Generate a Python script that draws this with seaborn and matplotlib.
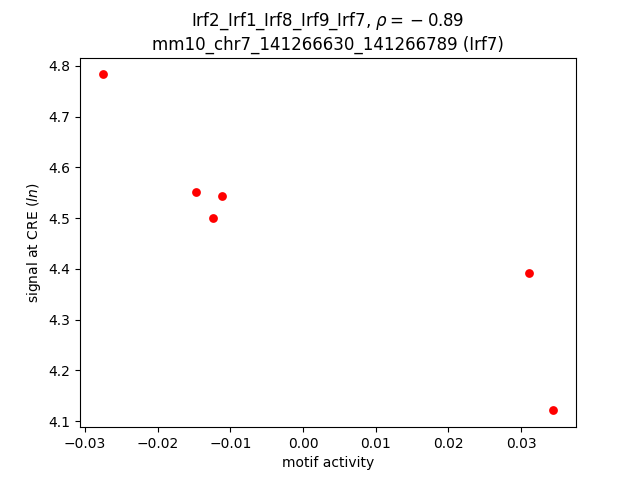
import numpy as np
import pandas as pd
import matplotlib
matplotlib.use("Agg")
import matplotlib.pyplot as plt
import seaborn as sns

motif_activity = [-0.02759, -0.01474, -0.01116, -0.01240, 0.03113, 0.03444]
cre_signal = [4.783, 4.551, 4.543, 4.500, 4.391, 4.121]

df = pd.DataFrame({"motif": motif_activity, "signal": cre_signal})

fig, ax = plt.subplots(figsize=(6.4, 4.8), dpi=100)
sns.scatterplot(data=df, x="motif", y="signal", color="red", s=40, linewidth=0, ax=ax)

ax.set_title("Irf2_Irf1_Irf8_Irf9_Irf7, $\\rho = {} - 0.89$\nmm10_chr7_141266630_141266789 (Irf7)")
ax.set_xlabel("motif activity")
ax.set_ylabel("signal at CRE ($ln$)")

fig.savefig("out.png", dpi=100)
